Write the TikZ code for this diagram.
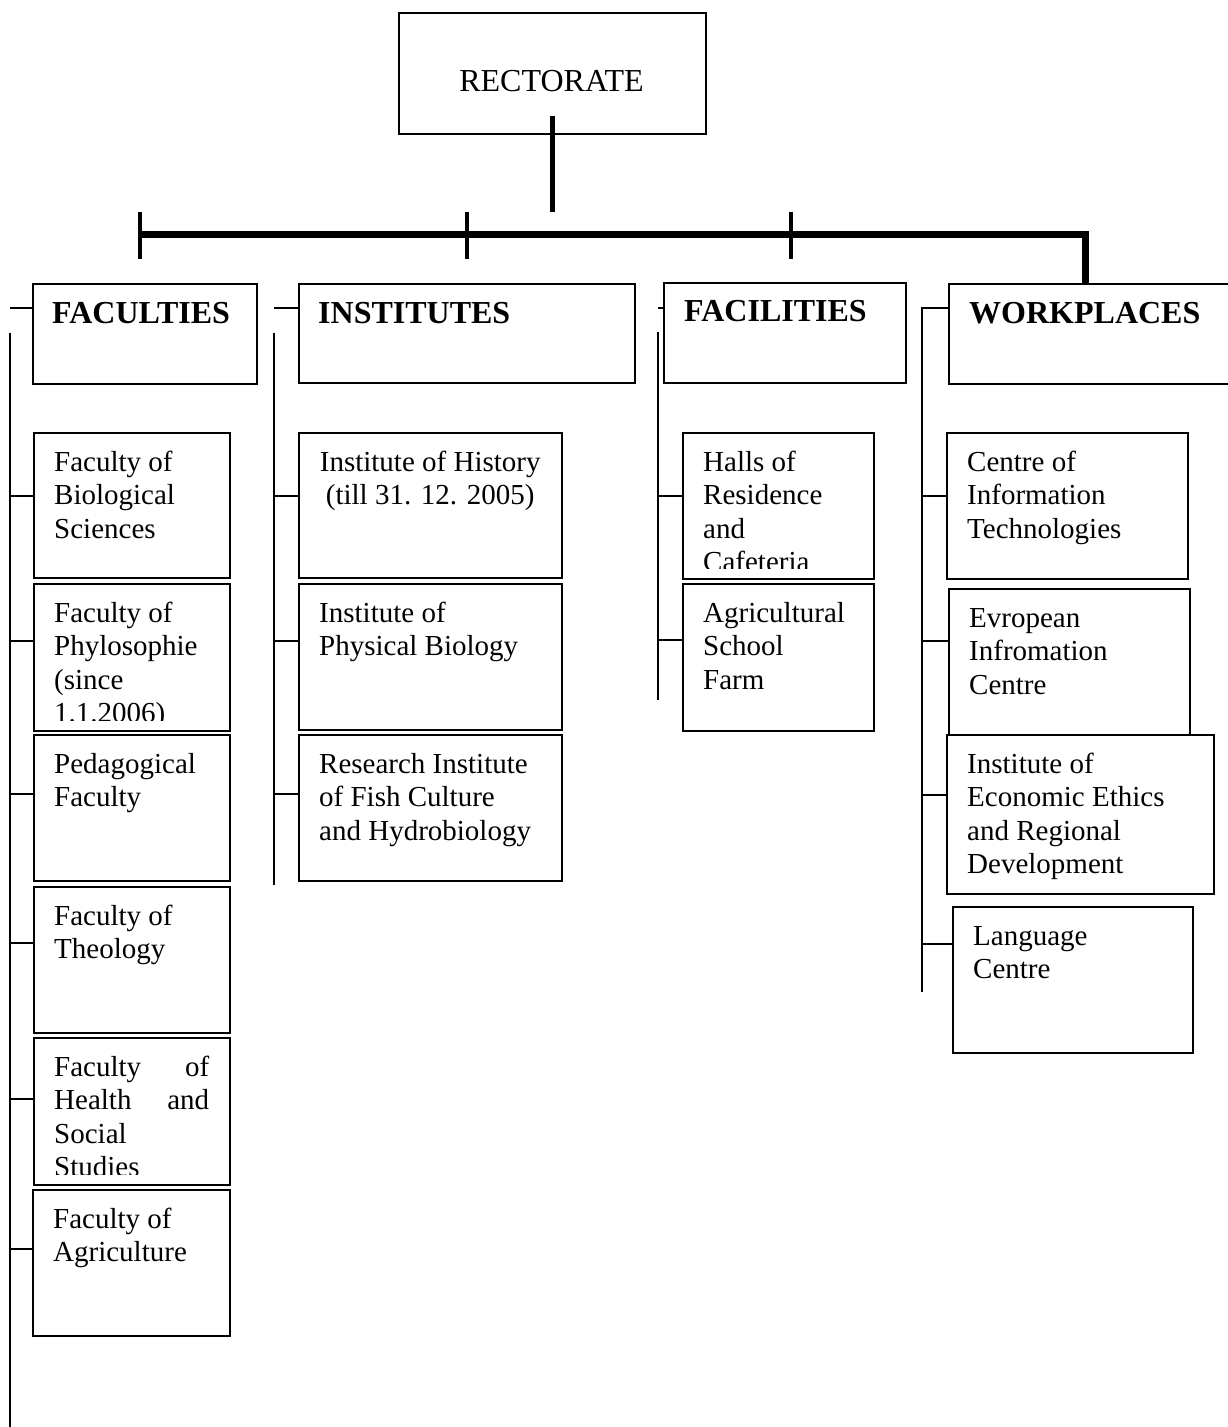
\documentclass[tikz,border=0pt]{standalone}
\usepackage{fontspec}
\setmainfont{Liberation Serif}
\usetikzlibrary{calc}
\tikzset{
 boxst/.style={draw=black, fill=white, line width=2pt, inner sep=0pt},
 conn/.style={line width=2pt},
 busline/.style={line width=7pt, line join=miter},
 tickline/.style={line width=4pt},
 dropline/.style={line width=5pt},
 hdr/.style={font=\fontsize{32}{36}\selectfont\bfseries, anchor=base west, inner sep=0pt},
}
\newcommand\orgbox[6]{%
 \node[boxst, anchor=north west, minimum width=#4pt, minimum height=#5pt] (#1) at (#2,#3) {};
 \begin{scope}
 \clip ([shift={(1pt,-1pt)}]#1.north west) rectangle ([shift={(-1pt,12pt)}]#1.south east);
 \node[anchor=base west, inner sep=0pt, font=\fontsize{29}{33.5}\selectfont] (#1t) at ([shift={(21pt,-39pt)}]#1.north west) {\parbox[t]{\dimexpr#4pt-41pt\relax}{\raggedright #6}};
 \end{scope}}
\begin{document}
\begin{tikzpicture}[x=1pt,y=-1pt]
\fill[white] (0,0) rectangle (1227,1427);
\useasboundingbox (0,0) rectangle (1227,1427);

% Rectorate
\node[boxst, anchor=north west, minimum width=307pt, minimum height=121pt] (rect) at (398,12) {};
\node[font=\fontsize{32}{36}\selectfont, anchor=base, inner sep=0pt] (rectT) at (551.5,91) {RECTORATE};

% Headers
\node[boxst, anchor=north west, minimum width=224pt, minimum height=100pt] (fac) at (32,283) {};
\node[hdr] (facT) at (52,323) {FACULTIES};
\node[boxst, anchor=north west, minimum width=336pt, minimum height=99pt] (ins) at (298,283) {};
\node[hdr] (insT) at (318,323) {INSTITUTES};
\node[boxst, anchor=north west, minimum width=242pt, minimum height=100pt] (fcl) at (663,282) {};
\node[hdr] (fclT) at (684,321) {FACILITIES};
\node[boxst, anchor=north west, minimum width=290pt, minimum height=100pt] (wrk) at (948,283) {};
\node[hdr] (wrkT) at (969,323) {WORKPLACES};

% Faculties
\orgbox{fb1}{33}{432}{196}{145}{Faculty of\\Biological\\Sciences}
\orgbox{fb2}{33}{583}{196}{147}{Faculty of\\Phylosophie\\(since\\1.1.2006)}
\orgbox{fb3}{33}{734}{196}{146}{Pedagogical\\Faculty}
\orgbox{fb4}{33}{886}{196}{146}{Faculty of\\Theology}
\orgbox{fb5}{33}{1037}{196}{147}{Faculty\hfill of\\Health\hfill and\\Social\\Studies}
\orgbox{fb6}{32}{1189}{197}{146}{Faculty of\\Agriculture}

% Institutes
\orgbox{ib1}{298}{432}{263}{145}{\centering Institute of History\\(till 31. 12. 2005)}
\orgbox{ib2}{298}{583}{263}{146}{Institute of\\Physical Biology}
\orgbox{ib3}{298}{734}{263}{146}{Research Institute\\of Fish Culture\\and Hydrobiology}

% Facilities
\orgbox{cb1}{682}{432}{191}{146}{Halls of\\Residence\\and\\Cafeteria}
\orgbox{cb2}{682}{583}{191}{147}{Agricultural\\School\\Farm}

% Workplaces
\orgbox{wb1}{946}{432}{241}{146}{Centre of\\Information\\Technologies}
\orgbox{wb2}{948}{588}{241}{146}{Evropean\\Infromation\\Centre}
\orgbox{wb3}{946}{734}{267}{159}{Institute of\\Economic Ethics\\and Regional\\Development}
\orgbox{wb4}{952}{906}{240}{146}{Language\\Centre}

% Top connectors
\coordinate (rd1) at (552,116);
\coordinate (rd2) at (552,212);
\draw[dropline] (rd1) -- (rd2);
\coordinate (busL) at (140,234);
\coordinate (busR) at (1085,234);
\draw[busline] (busL) -- (busR) -- (busR |- wrk.north);
\foreach \n/\x in {t1/140,t2/467,t3/791}{
 \coordinate (\n a) at (\x,212);
 \coordinate (\n b) at (\x,259);
 \draw[tickline] (\n a) -- (\n b);
}

% Faculties spine
\coordinate (fH) at (10,308);
\draw[conn] (fH) -- (fH -| fac.west);
\coordinate (fS1) at (10,333);
\coordinate (fS2) at (10,1432);
\draw[conn] (fS1) -- (fS2);
\foreach \b/\y in {fb1/496,fb2/641,fb3/794,fb4/943,fb5/1099,fb6/1249}{
 \coordinate (\b k) at (10,\y);
 \draw[conn] (\b k) -- (\b k -| \b.west);
}

% Institutes spine
\coordinate (iH) at (274,308);
\draw[conn] (iH) -- (iH -| ins.west);
\coordinate (iS1) at (274,333);
\coordinate (iS2) at (274,885);
\draw[conn] (iS1) -- (iS2);
\foreach \b/\y in {ib1/496,ib2/641,ib3/794}{
 \coordinate (\b k) at (274,\y);
 \draw[conn] (\b k) -- (\b k -| \b.west);
}

% Facilities spine
\coordinate (cH) at (658,308);
\draw[conn] (cH) -- (cH -| fcl.west);
\coordinate (cS1) at (658,332);
\coordinate (cS2) at (658,700);
\draw[conn] (cS1) -- (cS2);
\foreach \b/\y in {cb1/496,cb2/640}{
 \coordinate (\b k) at (658,\y);
 \draw[conn] (\b k) -- (\b k -| \b.west);
}

% Workplaces spine
\coordinate (wH) at (922,308);
\coordinate (wS2) at (922,992);
\draw[conn] (wH -| wrk.west) -- (wH) -- (wS2);
\foreach \b/\y in {wb1/496,wb2/641,wb3/795,wb4/944}{
 \coordinate (\b k) at (922,\y);
 \draw[conn] (\b k) -- (\b k -| \b.west);
}
\end{tikzpicture}
\end{document}
